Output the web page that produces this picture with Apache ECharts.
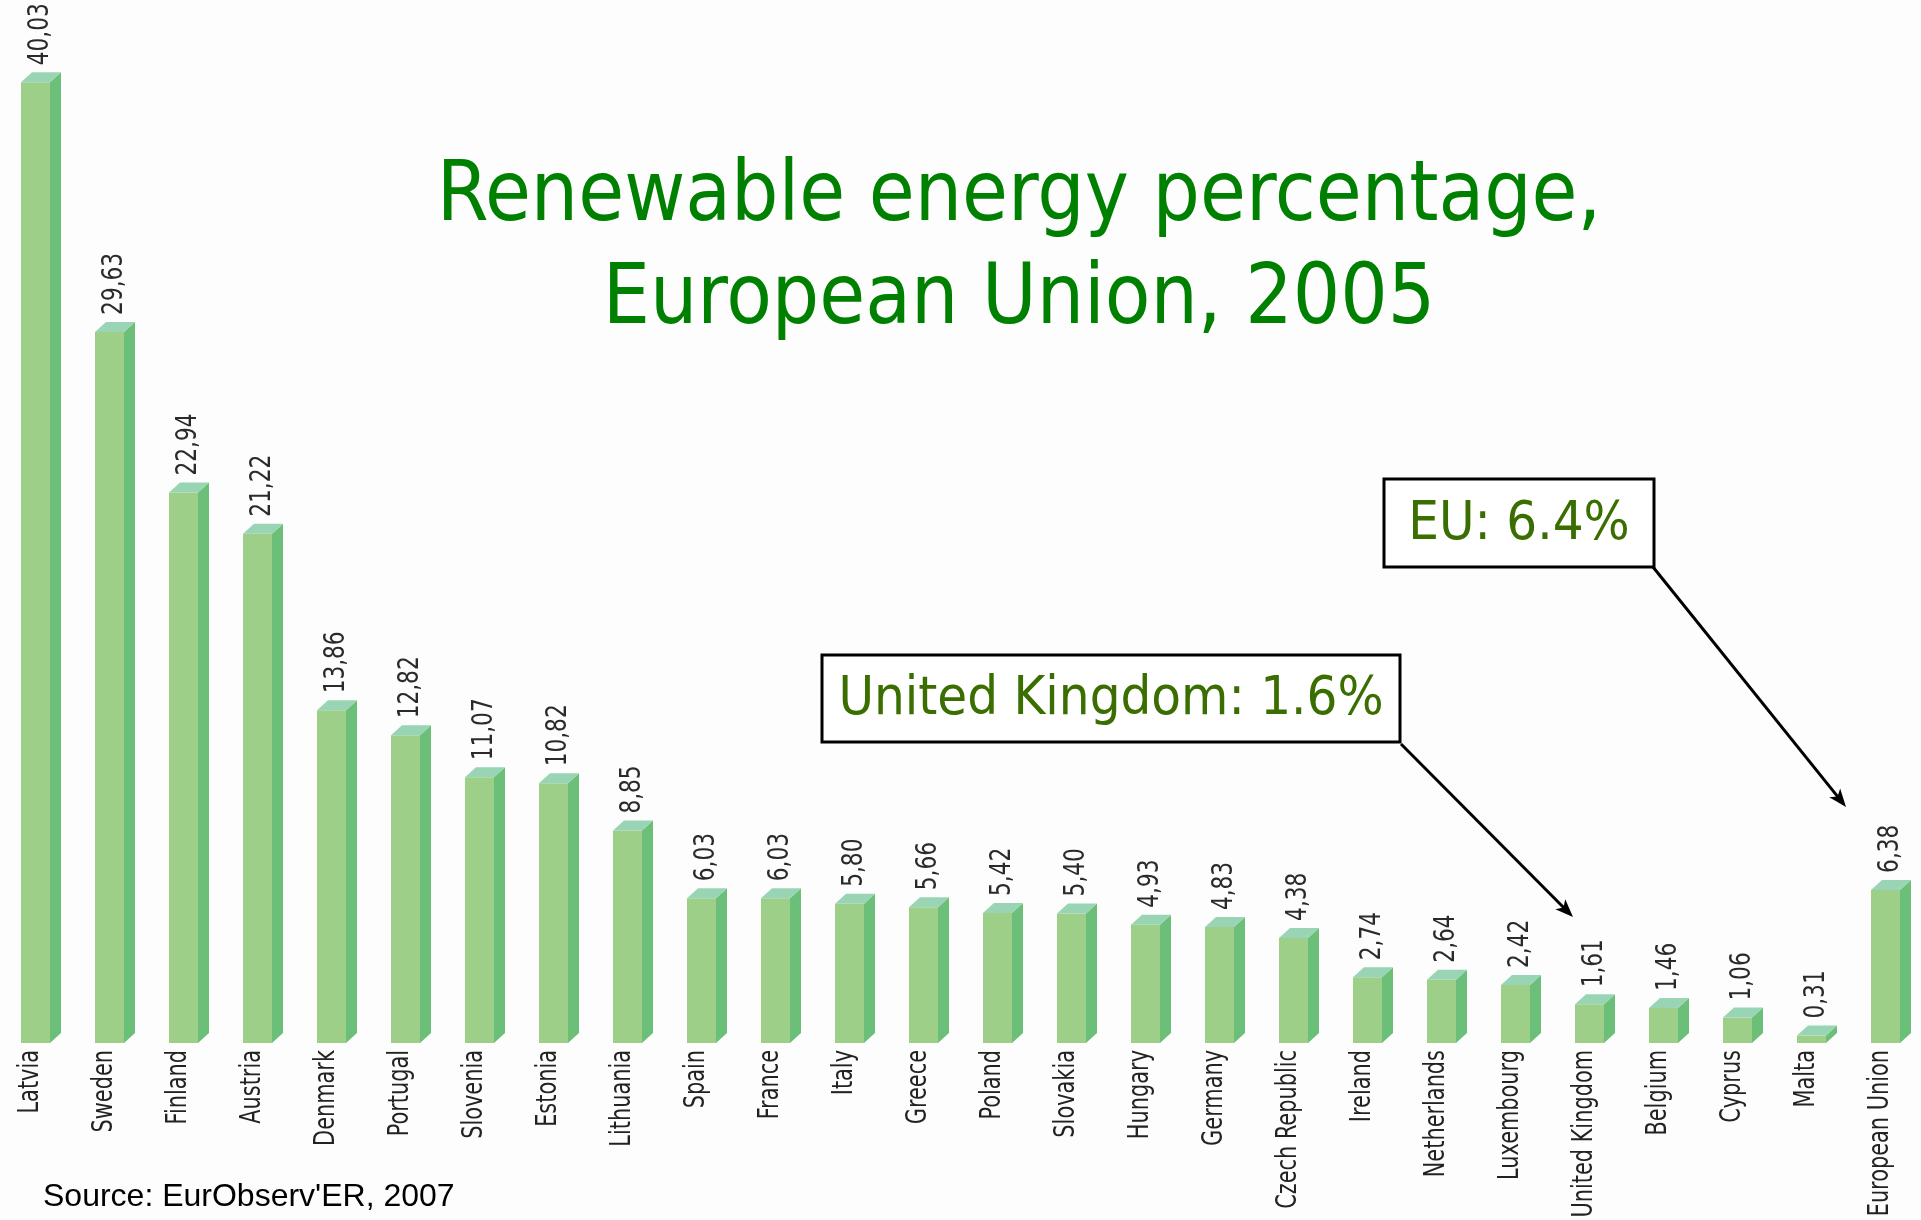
<!DOCTYPE html>
<html>
<head>
<meta charset="utf-8">
<script src="https://cdn.jsdelivr.net/npm/echarts@6/dist/echarts.min.js"></script>
<style>
html,body{margin:0;padding:0;background:#fdfdfd;}
#chart{width:1921px;height:1220px;}
</style>
</head>
<body>
<div id="chart"></div>
<script>
const categories = ["Latvia","Sweden","Finland","Austria","Denmark","Portugal","Slovenia","Estonia","Lithuania","Spain","France","Italy","Greece","Poland","Slovakia","Hungary","Germany","Czech Republic","Ireland","Netherlands","Luxembourg","United Kingdom","Belgium","Cyprus","Malta","European Union"];
const values = [40.03,29.63,22.94,21.22,13.86,12.82,11.07,10.82,8.85,6.03,6.03,5.80,5.66,5.42,5.40,4.93,4.83,4.38,2.74,2.64,2.42,1.61,1.46,1.06,0.31,6.38];
const titleText = "Renewable energy percentage,\nEuropean Union, 2005";
const sourceText = "Source: EurObserv'ER, 2007";
const ukNote = "United Kingdom: 1.6%";
const euNote = "EU: 6.4%";

const NARROW = '"DejaVu Sans Condensed",sans-serif';
const TAHOMA = '"DejaVu Sans Condensed","DejaVu Sans",sans-serif';

const chart = echarts.init(document.getElementById('chart'), null, {renderer:'canvas'});

function fmt(v){ return v.toFixed(2).replace('.', ','); }

function renderItem(params, api){
  const idx = api.value(0);
  const val = api.value(1);
  const top = api.coord([idx, val]);
  const base = api.coord([idx, 0]);
  const c = top[0];
  const x0 = c - 19, x1 = c + 10, dx = 11, dy = 10;
  const yt = top[1], yb = base[1];
  return {
    type: 'group',
    children: [
      {type:'rect', shape:{x:x0, y:yt, width:x1-x0, height:yb-yt}, style:{fill:'#9dcf88'}},
      {type:'polygon', shape:{points:[[x1,yt],[x1+dx,yt-dy],[x1+dx,yb-dy],[x1,yb]]}, style:{fill:'#6cbf78'}},
      {type:'polygon', shape:{points:[[x0,yt],[x0+dx,yt-dy],[x1+dx,yt-dy],[x1,yt]]}, style:{fill:'#99d5b5'}},
      {type:'text', x: c + 1, y: yt - dy - 7, rotation: Math.PI/2, scaleX: 0.86,
        style:{text: fmt(val), align:'left', verticalAlign:'middle', fill:'#2a2a2a', font:'28px ' + NARROW}},
      {type:'text', x: c - 10, y: yb + 7, rotation: Math.PI/2, scaleX: 0.8,
        style:{text: categories[idx], align:'right', verticalAlign:'middle', fill:'#222', font:'29px ' + NARROW}}
    ]
  };
}

function arrow(x1,y1,x2,y2){
  const ang = Math.atan2(y2-y1, x2-x1);
  const L = 18, W = 7;
  const bx = x2 - L*Math.cos(ang), by = y2 - L*Math.sin(ang);
  const px = -Math.sin(ang), py = Math.cos(ang);
  return [
    {type:'line', shape:{x1:x1,y1:y1,x2:bx+ (x2-bx)*0.3,y2:by+(y2-by)*0.3}, style:{stroke:'#000', lineWidth:3}},
    {type:'polygon', shape:{points:[[x2,y2],[bx+px*W,by+py*W],[bx+(x2-bx)*0.25,by+(y2-by)*0.25],[bx-px*W,by-py*W]]}, style:{fill:'#000'}}
  ];
}

const option = {
  backgroundColor:'#fdfdfd',
  animation:false,
  title:[
    {text:titleText, left:1014, top:142, textAlign:'center',
      textStyle:{color:'#008000', fontSize:83, fontWeight:'normal', fontFamily:TAHOMA, lineHeight:103}},
    {text:sourceText, left:38, top:1176,
      textStyle:{color:'#000', fontSize:32, fontWeight:'normal', fontFamily:'"Liberation Sans",Arial,sans-serif'}}
  ],
  grid:{left:3, width:1924, top:11, height:1032, containLabel:false, outerBoundsMode:'none'},
  xAxis:{type:'category', data:categories,
    axisLine:{show:false}, axisTick:{show:false}, axisLabel:{show:false}},
  yAxis:{type:'value', min:0, max:43, show:false, splitLine:{show:false}},
  series:[{type:'custom', renderItem:renderItem, data: values.map((v,i)=>[i,v]), clip:false}],
  graphic:[
    {type:'rect', shape:{x:822, y:655, width:578, height:87}, style:{fill:'#fff', stroke:'#000', lineWidth:3}},
    {type:'text', x:1111, y:700, style:{text:ukNote, align:'center', verticalAlign:'middle', fill:'#3a6e00', font:'54px ' + TAHOMA}},
    {type:'rect', shape:{x:1384, y:479, width:270, height:88}, style:{fill:'#fff', stroke:'#000', lineWidth:3}},
    {type:'text', x:1519, y:525, style:{text:euNote, align:'center', verticalAlign:'middle', fill:'#3a6e00', font:'54px ' + TAHOMA}},
    ...arrow(1401,744,1573,917),
    ...arrow(1653,567,1846,807)
  ]
};
chart.setOption(option);
</script>
</body>
</html>
